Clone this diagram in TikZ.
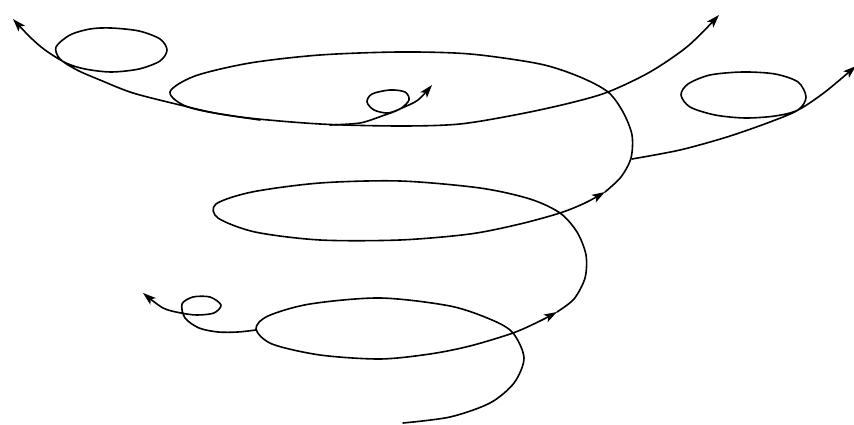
\documentclass[tikz,border=0pt]{standalone}
\usetikzlibrary{arrows.meta}
\begin{document}
\begin{tikzpicture}[x=1pt,y=1pt,
  swirl/.style={line width=1.6pt,line cap=round,line join=round},
  flow/.style={swirl,-{Stealth[length=13pt,width=8.5pt,inset=3pt]}}]
\useasboundingbox (0,0) rectangle (854,425);
\draw[flow] plot[smooth] coordinates {(403,2) (450,8) (490,22) (514,42) (524,67) (513,92) (492,105) (450,119) (380,127) (310,121) (268,109) (256,96) (272,81) (320,70) (380,66) (430,71) (470,79) (513,92) (540,104) (557,113)};
\draw[flow] plot[smooth] coordinates {(557,113) (574,126) (585,147) (586,170) (577,193) (560,212) (530,226) (480,237) (400,244) (320,242) (252,233) (216,221) (218,207) (255,193) (320,185) (400,185) (470,191) (520,201) (560,212) (585,222) (605,233)};
\draw[flow] plot[smooth] coordinates {(605,233) (621,248) (631,267) (632,290) (623,313) (608,333) (580,348) (540,361) (470,371) (400,373) (320,370) (250,362) (195,349) (170,333) (188,318) (240,308) (320,301) (400,299) (460,301) (520,311) (570,322) (608,333) (650,353) (688,379) (719,410)};
\draw[flow] plot[smooth] coordinates {(256,95) (238,93) (218,93) (199,97) (185,107) (182,121) (193,128) (210,128) (221,120) (214,112) (197,110) (181,112) (163,117) (143,132)};
\draw[flow] plot[smooth] coordinates {(632,266) (680,275) (727,288) (770,303) (798,315) (806,328) (798,343) (775,351) (743,353) (710,350) (688,341) (681,330) (690,318) (715,310) (745,307) (775,309) (798,315) (825,333) (856,359)};
\draw[flow] plot[smooth] coordinates {(260,305) (215,312) (180,320) (133,332) (100,345) (77,355) (60,366) (56,378) (70,390) (90,396) (111,397) (139,394) (160,386) (167,375) (160,364) (139,356) (111,353) (85,356) (66,362) (45,375) (30,388) (13,406)};
\draw[flow] plot[smooth] coordinates {(330,300) (360,302) (382,309) (400,316) (409,325) (405,333) (390,335) (372,331) (367,323) (374,315) (388,312) (402,317) (418,325) (432,340)};
\end{tikzpicture}
\end{document}
